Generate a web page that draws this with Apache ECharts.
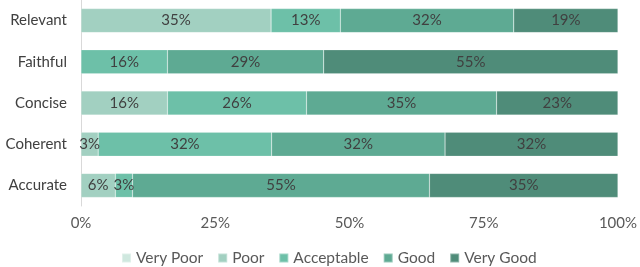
<!DOCTYPE html>
<html><head><meta charset="utf-8">
<script src="https://cdn.jsdelivr.net/npm/echarts@6/dist/echarts.min.js"></script>
<style>html,body{margin:0;padding:0;background:#fff}#c{width:640px;height:267px}</style>
</head><body><div id="c"></div>
<script>
const categories = ['Relevant','Faithful','Concise','Coherent','Accurate'];
const seriesNames = ['Very Poor','Poor','Acceptable','Good','Very Good'];
const veryPoor   = [0, 0, 0, 0, 0];
const poor       = [35.4, 0, 16.1, 3.2, 6.4];
const acceptable = [12.9, 16.1, 25.9, 32.3, 3.2];
const good       = [32.3, 29.1, 35.4, 32.3, 55.3];
const veryGood   = [19.4, 54.8, 22.6, 32.2, 35.1];
const xTicks = [0, 25, 50, 75, 100];
const colors = ['#cfe8df','#a2d0c1','#6dc0a8','#5eaa93','#4f8c79'];
const values = [veryPoor, poor, acceptable, good, veryGood];
const font = 'Lato, "Noto Sans", sans-serif';
const chart = echarts.init(document.getElementById('c'));
chart.setOption({
  animation:false,
  textStyle:{fontFamily:font},
  legend:{bottom:-4,left:116,itemWidth:9,itemHeight:9,itemGap:14,icon:'rect',
    textStyle:{fontSize:15.5,color:'#595959',fontFamily:font},data:seriesNames},
  grid:{left:81,right:18,top:0,bottom:61},
  xAxis:{type:'value',min:0,max:100,interval:25,
    axisLabel:{formatter:v=>v+'%',fontSize:15,color:'#595959',margin:10,fontFamily:font},
    splitLine:{show:false},axisLine:{show:false},axisTick:{show:false}},
  yAxis:{type:'category',data:categories,inverse:true,
    axisLine:{show:true,lineStyle:{color:'#d9d9d9',width:1}},axisTick:{show:false},
    axisLabel:{fontSize:15,color:'#404040',margin:14,fontFamily:font}},
  series: seriesNames.map((n,i)=>({
    name:n,type:'bar',stack:'t',barWidth:24,data:values[i],
    itemStyle:{color:colors[i],borderColor:'rgba(255,255,255,0.35)',borderWidth:0.5},
    label:{show:true,position:'inside',fontSize:15,color:'#404040',fontFamily:font,
      formatter:p=>p.value>0?Math.round(p.value)+'%':''}
  }))
});
</script></body></html>
